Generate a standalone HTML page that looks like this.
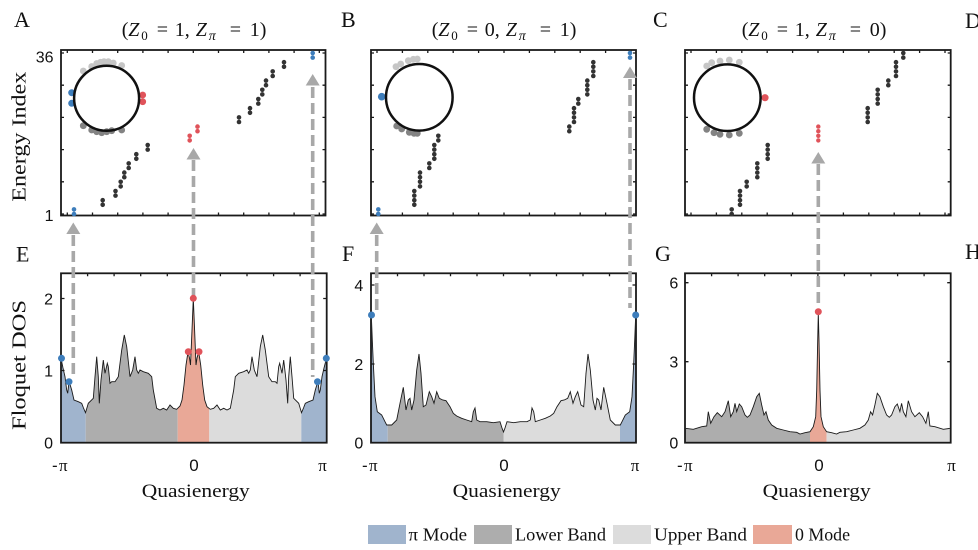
<!DOCTYPE html>
<html><head><meta charset="utf-8"><style>
html,body{margin:0;padding:0;background:#fff;}
svg{display:block;}
text{font-family:"Liberation Serif",serif;fill:#111;}
.sans{font-family:"Liberation Sans",sans-serif;}
</style></head><body>
<svg width="978" height="550" viewBox="0 0 978 550" xmlns="http://www.w3.org/2000/svg">
<rect width="978" height="550" fill="#fff"/>
<defs>
<path id="eA" d="M61,442.7 L61,358.3 63,368 65,376.7 66.7,390 67.7,393.3 69,381.7 70.5,386 71.7,390 74,400 78.3,401.7 81.7,403.3 83.5,408 85.5,412.7 88.3,403.3 93.3,398.3 95,376.7 96.7,356.7 98.3,376.7 99.3,403.3 101,380 103.3,360 105,373.3 107.3,363.3 108.3,366.7 110,383.3 111.7,381.7 115,381.7 118.3,376.7 121.7,350 124.3,335 126.7,346.7 130,376.7 132.7,370 135,356.7 136.7,370 138.3,373.3 140,370 143.3,371.7 148.3,373.3 151.7,376.7 153.3,390 156.7,408.3 160,410 163.3,408.3 166.7,410 170,405 173.3,408.3 176.7,409.3 180,406 182,400 184,385 186,365 188,352 189.5,358 190.5,365 192,330 193.3,298.3 194.6,330 196,365 197,358 198.7,352 200.7,365 202.7,385 204.7,400 207,406.7 210.3,409.3 213.7,408.3 217,405 220.3,410 223.7,408.3 227,410 230.3,408.3 233.7,390 235.3,376.7 238.7,373.3 243.7,371.7 247,370 248.7,373.3 250.3,370 252,356.7 254.3,370 257,376.7 260.3,346.7 262.7,335 265.3,350 268.7,376.7 272,381.7 275.3,381.7 277,383.3 278.7,366.7 279.7,363.3 282,373.3 283.7,360 286,380 287.7,403.3 288.7,376.7 290.3,356.7 292,376.7 293.7,398.3 298.7,403.3 301.5,412.7 303.5,408 305.3,403.3 308.7,401.7 313,400 315.3,390 316.5,386 318,381.7 319.3,393.3 320.3,390 322,376.7 324,368 326.5,358.3 L326.5,442.7 Z"/>
<path id="fA" d="M371,442.7 L371.3,315 372.3,340 373.3,363.3 375,396.7 377.3,411.7 381.7,415 385,421.7 386.7,425 391.7,425 396.7,420 400,403.3 403.3,387.3 406,410 408.3,400 410,398.3 411.7,410 414,400 416.7,370 419,354 421,373.3 423.3,406.7 426,405 429.3,391.7 431.7,396.7 434,403.3 436.7,391.7 439.3,398.3 442.7,400 446,400.7 450,406.7 453.3,413.3 456.7,416 461.7,418.3 466.7,420 471.7,421.7 473.3,411.7 475,408 476.7,420 480,421.7 486.7,421.7 493.3,422.7 500,421.7 502,428 503.5,432 505,428 507,421.7 513.7,422.7 520.3,421.7 527,421.7 530.3,420 532,408 533.7,411.7 535.3,421.7 540.3,420 545.3,418.3 550.3,416 553.7,413.3 557,406.7 561,400.7 564.3,400 567.7,398.3 570.3,391.7 573,403.3 575.3,396.7 577.7,391.7 581,405 583.7,406.7 586,373.3 588,354 590.3,370 593,400 595.3,410 597,398.3 598.7,400 601,410 603.7,387.3 607,403.3 610.3,420 615.3,425 620.3,425 622,421.7 625.3,415 629.7,411.7 632,396.7 633.7,363.3 634.7,340 635.7,315 L636,442.7 Z"/>
<path id="gA" d="M685,442.7 L685.5,428.3 693.3,429.3 701.7,426.7 706.7,426 708.3,411.7 710.7,423.3 714,416.7 717.3,412.7 721.7,416.7 725,411.7 728.3,400.7 730.7,416.7 733.3,411.7 735,403.3 736.7,411.7 739.3,404 741.7,406.7 745,415 747.3,417.3 750,415 753.3,406.7 756.7,396.7 759.3,393.3 761.7,405 764,415 766,411.7 768.3,420 771.7,425 776.7,428.3 783.3,430 790,431.7 796.7,432.3 800,434 805,432.7 810,431.7 813.3,426.7 815.7,416.7 816.7,390 817.7,340 818.3,313 819,340 820,390 821,416.7 823.3,426.7 826.6,431.7 831.6,432.7 836.6,434 839.9,432.3 846.6,431.7 853.3,430 859.9,428.3 864.9,425 868.3,420 870.6,411.7 872.6,415 874.9,405 877.3,393.3 879.9,396.7 883.3,406.7 886.6,415 889.3,417.3 891.6,415 894.9,406.7 897.3,404 899.9,411.7 901.6,403.3 903.3,411.7 905.9,416.7 908.3,400.7 911.6,411.7 914.9,416.7 919.3,412.7 922.6,416.7 925.9,423.3 928.3,411.7 929.9,426 934.9,426.7 943.3,429.3 950.5,428.3 L950.7,442.7 Z"/>
<clipPath id="e1"><rect x="60" y="250" width="25.7" height="200"/></clipPath>
<clipPath id="e2"><rect x="85.7" y="250" width="92" height="200"/></clipPath>
<clipPath id="e3"><rect x="177.7" y="250" width="31.6" height="200"/></clipPath>
<clipPath id="e4"><rect x="209.3" y="250" width="92" height="200"/></clipPath>
<clipPath id="e5"><rect x="301.3" y="250" width="30" height="200"/></clipPath>
<clipPath id="f1"><rect x="370" y="250" width="17.7" height="200"/></clipPath>
<clipPath id="f2"><rect x="387.7" y="250" width="115.8" height="200"/></clipPath>
<clipPath id="f3"><rect x="503.5" y="250" width="116.5" height="200"/></clipPath>
<clipPath id="f4"><rect x="620" y="250" width="20" height="200"/></clipPath>
<clipPath id="g2"><rect x="684" y="250" width="126" height="200"/></clipPath>
<clipPath id="g3"><rect x="810" y="250" width="16.6" height="200"/></clipPath>
<clipPath id="g4"><rect x="826.6" y="250" width="126" height="200"/></clipPath>
</defs>

<g stroke="none">
<use href="#eA" fill="#a0b4cd" clip-path="url(#e1)"/>
<use href="#eA" fill="#adadad" clip-path="url(#e2)"/>
<use href="#eA" fill="#e9a897" clip-path="url(#e3)"/>
<use href="#eA" fill="#dcdcdc" clip-path="url(#e4)"/>
<use href="#eA" fill="#a0b4cd" clip-path="url(#e5)"/>
<use href="#fA" fill="#a0b4cd" clip-path="url(#f1)"/>
<use href="#fA" fill="#adadad" clip-path="url(#f2)"/>
<use href="#fA" fill="#dcdcdc" clip-path="url(#f3)"/>
<use href="#fA" fill="#a0b4cd" clip-path="url(#f4)"/>
<use href="#gA" fill="#adadad" clip-path="url(#g2)"/>
<use href="#gA" fill="#e9a897" clip-path="url(#g3)"/>
<use href="#gA" fill="#dcdcdc" clip-path="url(#g4)"/>
</g>
<clipPath id="eC"><rect x="61.8" y="250" width="264" height="192"/></clipPath>
<clipPath id="fC"><rect x="371.8" y="250" width="263.5" height="192"/></clipPath>
<clipPath id="gC"><rect x="685.8" y="250" width="264" height="192"/></clipPath>
<use href="#eA" fill="none" stroke="#1a1a1a" stroke-width="0.9" clip-path="url(#eC)"/>
<use href="#fA" fill="none" stroke="#1a1a1a" stroke-width="0.9" clip-path="url(#fC)"/>
<use href="#gA" fill="none" stroke="#1a1a1a" stroke-width="0.9" clip-path="url(#gC)"/>

<g fill="none" stroke="#1a1a1a" stroke-width="1.8">
<rect x="61" y="50" width="264.5" height="165.5"/>
<rect x="371" y="50" width="265" height="165.5"/>
<rect x="685" y="50" width="265.7" height="165.5"/>
<rect x="61" y="273.3" width="265.7" height="169.4"/>
<rect x="371" y="273.3" width="265" height="169.4"/>
<rect x="685" y="273.3" width="265.7" height="169.4"/>
</g>
<g stroke="#1a1a1a" stroke-width="1.3">
<path d="M67.3,50v3M92.5,50v3M117.7,50v3M142.9,50v3M168.1,50v3M193.3,50v3M218.5,50v3M243.7,50v3M268.9,50v3M294.1,50v3M319.3,50v3
M67.3,215.5v-3M92.5,215.5v-3M117.7,215.5v-3M142.9,215.5v-3M168.1,215.5v-3M193.3,215.5v-3M218.5,215.5v-3M243.7,215.5v-3M268.9,215.5v-3M294.1,215.5v-3M319.3,215.5v-3"/>
<path d="M61,53h3M61,85.2h3M61,117.4h3M61,149.6h3M61,181.8h3M61,214h3M325.5,53h-3M325.5,85.2h-3M325.5,117.4h-3M325.5,149.6h-3M325.5,181.8h-3M325.5,214h-3"/>
<path d="M377,50v3M402.4,50v3M427.8,50v3M453.2,50v3M478.6,50v3M504,50v3M529.4,50v3M554.8,50v3M580.2,50v3M605.6,50v3M631,50v3
M377,215.5v-3M402.4,215.5v-3M427.8,215.5v-3M453.2,215.5v-3M478.6,215.5v-3M504,215.5v-3M529.4,215.5v-3M554.8,215.5v-3M580.2,215.5v-3M605.6,215.5v-3M631,215.5v-3"/>
<path d="M371,53h3M371,85.2h3M371,117.4h3M371,149.6h3M371,181.8h3M371,214h3M636,53h-3M636,85.2h-3M636,117.4h-3M636,149.6h-3M636,181.8h-3M636,214h-3"/>
<path d="M691,50v3M716.4,50v3M741.8,50v3M767.2,50v3M792.6,50v3M818,50v3M843.4,50v3M868.8,50v3M894.2,50v3M919.6,50v3M945,50v3
M691,215.5v-3M716.4,215.5v-3M741.8,215.5v-3M767.2,215.5v-3M792.6,215.5v-3M818,215.5v-3M843.4,215.5v-3M868.8,215.5v-3M894.2,215.5v-3M919.6,215.5v-3M945,215.5v-3"/>
<path d="M685,53h3M685,85.2h3M685,117.4h3M685,149.6h3M685,181.8h3M685,214h3M950.7,53h-3M950.7,85.2h-3M950.7,117.4h-3M950.7,149.6h-3M950.7,181.8h-3M950.7,214h-3"/>
<path d="M87.6,273.3v3M114.1,273.3v3M140.7,273.3v3M167.3,273.3v3M193.9,273.3v3M220.4,273.3v3M247,273.3v3M273.6,273.3v3M300.1,273.3v3
M61,298.5h3.5M61,370.5h3.5M326.7,298.5h-3.5M326.7,370.5h-3.5"/>
<path d="M397.5,273.3v3M424,273.3v3M450.5,273.3v3M477,273.3v3M503.5,273.3v3M530,273.3v3M556.5,273.3v3M583,273.3v3M609.5,273.3v3
M371,285h3.5M371,364h3.5M636,285h-3.5M636,364h-3.5"/>
<path d="M711.6,273.3v3M738.1,273.3v3M764.7,273.3v3M791.3,273.3v3M817.9,273.3v3M844.4,273.3v3M871,273.3v3M897.6,273.3v3M924.1,273.3v3
M685,282.7h3.5M685,361.7h3.5M950.7,282.7h-3.5M950.7,361.7h-3.5"/>
</g>

<g stroke="#a8a8a8" stroke-width="3.6" stroke-dasharray="11 5" fill="none">
<path d="M73.3,235V377"/>
<path d="M193.5,160V296"/>
<path d="M312.7,87V377"/>
<path d="M376.7,235V310"/>
<path d="M630,79V308"/>
<path d="M818.3,164V305"/>
</g>
<g fill="#a8a8a8">
<polygon points="66.3,234 80.3,234 73.3,222.5"/>
<polygon points="186.5,159.5 200.5,159.5 193.5,148"/>
<polygon points="305.7,85.5 319.7,85.5 312.7,74"/>
<polygon points="369.7,234 383.7,234 376.7,222.5"/>
<polygon points="623,78 637,78 630,66.5"/>
<polygon points="811.3,163.5 825.3,163.5 818.3,152"/>
</g>

<g fill="#3d7dbb">
<circle cx="61.5" cy="358.3" r="3.5"/><circle cx="69" cy="381.7" r="3.5"/>
<circle cx="317.5" cy="381.7" r="3.5"/><circle cx="326.3" cy="358.3" r="3.5"/>
<circle cx="371.5" cy="315" r="3.5"/><circle cx="635.7" cy="315" r="3.5"/>
</g>
<g fill="#e0535a">
<circle cx="193.3" cy="298.3" r="3.5"/><circle cx="188.3" cy="351.7" r="3.5"/><circle cx="199" cy="351.7" r="3.5"/>
<circle cx="818.3" cy="311.7" r="3.5"/>
</g>

<g fill="#3d7dbb">
<circle cx="74" cy="214" r="2.3"/><circle cx="74" cy="209.4" r="2.3"/>
<circle cx="312.7" cy="57.6" r="2.3"/><circle cx="312.7" cy="53" r="2.3"/>
<circle cx="378.3" cy="214" r="2.3"/><circle cx="378.3" cy="209.4" r="2.3"/>
<circle cx="630" cy="57.6" r="2.3"/><circle cx="630" cy="53" r="2.3"/>
</g>
<g fill="#e0535a">
<circle cx="189.7" cy="140.4" r="2.3"/><circle cx="189.7" cy="135.8" r="2.3"/>
<circle cx="197.5" cy="131.2" r="2.3"/><circle cx="197.5" cy="126.6" r="2.3"/>
<circle cx="818.3" cy="140.4" r="2.2"/><circle cx="818.3" cy="135.8" r="2.2"/><circle cx="818.3" cy="131.2" r="2.2"/><circle cx="818.3" cy="126.6" r="2.2"/>
</g>
<g fill="#333">
<circle cx="102.7" cy="204.8" r="2.3"/><circle cx="102.7" cy="200.2" r="2.3"/>
<circle cx="115.5" cy="195.6" r="2.3"/><circle cx="115.5" cy="191" r="2.3"/>
<circle cx="120.7" cy="186.4" r="2.3"/><circle cx="120.7" cy="181.8" r="2.3"/>
<circle cx="124.3" cy="177.2" r="2.3"/><circle cx="124.3" cy="172.6" r="2.3"/>
<circle cx="128.7" cy="168" r="2.3"/><circle cx="128.7" cy="163.4" r="2.3"/>
<circle cx="136.3" cy="158.8" r="2.3"/><circle cx="136.3" cy="154.2" r="2.3"/>
<circle cx="147.7" cy="149.6" r="2.3"/><circle cx="147.7" cy="145" r="2.3"/>
<circle cx="239" cy="122" r="2.3"/><circle cx="239" cy="117.4" r="2.3"/>
<circle cx="250" cy="112.8" r="2.3"/><circle cx="250" cy="108.2" r="2.3"/>
<circle cx="258.3" cy="103.6" r="2.3"/><circle cx="258.3" cy="99" r="2.3"/>
<circle cx="262.3" cy="94.4" r="2.3"/><circle cx="262.3" cy="89.8" r="2.3"/>
<circle cx="266" cy="85.2" r="2.3"/><circle cx="266" cy="80.6" r="2.3"/>
<circle cx="272.7" cy="76" r="2.3"/><circle cx="272.7" cy="71.4" r="2.3"/>
<circle cx="284" cy="66.8" r="2.3"/><circle cx="284" cy="62.2" r="2.3"/>
<circle cx="414.3" cy="204.8" r="2.3"/><circle cx="414.3" cy="200.2" r="2.3"/><circle cx="414.3" cy="195.6" r="2.3"/><circle cx="414.3" cy="191" r="2.3"/>
<circle cx="420" cy="186.4" r="2.3"/><circle cx="420" cy="181.8" r="2.3"/><circle cx="420" cy="177.2" r="2.3"/><circle cx="420" cy="172.6" r="2.3"/>
<circle cx="429.3" cy="168" r="2.3"/><circle cx="429.3" cy="163.4" r="2.3"/>
<circle cx="434.3" cy="158.8" r="2.3"/><circle cx="434.3" cy="154.2" r="2.3"/><circle cx="434.3" cy="149.6" r="2.3"/><circle cx="434.3" cy="145" r="2.3"/>
<circle cx="438.3" cy="140.4" r="2.3"/><circle cx="438.3" cy="135.8" r="2.3"/>
<circle cx="569.3" cy="131.2" r="2.3"/><circle cx="569.3" cy="126.6" r="2.3"/>
<circle cx="574" cy="122" r="2.3"/><circle cx="574" cy="117.4" r="2.3"/><circle cx="574" cy="112.8" r="2.3"/><circle cx="574" cy="108.2" r="2.3"/>
<circle cx="578.3" cy="103.6" r="2.3"/><circle cx="578.3" cy="99" r="2.3"/>
<circle cx="587.3" cy="94.4" r="2.3"/><circle cx="587.3" cy="89.8" r="2.3"/><circle cx="587.3" cy="85.2" r="2.3"/><circle cx="587.3" cy="80.6" r="2.3"/>
<circle cx="593.3" cy="76" r="2.3"/><circle cx="593.3" cy="71.4" r="2.3"/><circle cx="593.3" cy="66.8" r="2.3"/><circle cx="593.3" cy="62.2" r="2.3"/>
<circle cx="731.7" cy="214" r="2.3"/><circle cx="731.7" cy="209.4" r="2.3"/>
<circle cx="740" cy="204.8" r="2.3"/><circle cx="740" cy="200.2" r="2.3"/><circle cx="740" cy="195.6" r="2.3"/><circle cx="740" cy="191" r="2.3"/>
<circle cx="746.7" cy="186.4" r="2.3"/><circle cx="746.7" cy="181.8" r="2.3"/>
<circle cx="757.3" cy="177.2" r="2.3"/><circle cx="757.3" cy="172.6" r="2.3"/><circle cx="757.3" cy="168" r="2.3"/><circle cx="757.3" cy="163.4" r="2.3"/>
<circle cx="767.7" cy="158.8" r="2.3"/><circle cx="767.7" cy="154.2" r="2.3"/><circle cx="767.7" cy="149.6" r="2.3"/><circle cx="767.7" cy="145" r="2.3"/>
<circle cx="867.7" cy="122" r="2.3"/><circle cx="867.7" cy="117.4" r="2.3"/><circle cx="867.7" cy="112.8" r="2.3"/><circle cx="867.7" cy="108.2" r="2.3"/>
<circle cx="877.7" cy="103.6" r="2.3"/><circle cx="877.7" cy="99" r="2.3"/><circle cx="877.7" cy="94.4" r="2.3"/><circle cx="877.7" cy="89.8" r="2.3"/>
<circle cx="888.3" cy="85.2" r="2.3"/><circle cx="888.3" cy="80.6" r="2.3"/>
<circle cx="896" cy="76" r="2.3"/><circle cx="896" cy="71.4" r="2.3"/><circle cx="896" cy="66.8" r="2.3"/><circle cx="896" cy="62.2" r="2.3"/>
<circle cx="903.3" cy="57.6" r="2.3"/><circle cx="903.3" cy="53" r="2.3"/>
</g>

<g fill="#c6c6c6">
<circle cx="83.3" cy="71" r="3.4"/><circle cx="91.7" cy="66.5" r="3.4"/><circle cx="96.7" cy="63.5" r="3.4"/><circle cx="100.5" cy="62.3" r="3.4"/><circle cx="104" cy="61.7" r="3.4"/><circle cx="108.3" cy="61.7" r="3.4"/><circle cx="113.3" cy="63" r="3.4"/><circle cx="121.7" cy="65.5" r="3.4"/>
<circle cx="396" cy="66.7" r="3.4"/><circle cx="400.7" cy="64" r="3.4"/><circle cx="408.3" cy="60.7" r="3.4"/><circle cx="413.3" cy="59.3" r="3.4"/><circle cx="417.3" cy="59" r="3.4"/>
<circle cx="706.7" cy="66" r="3.4"/><circle cx="711.7" cy="62.7" r="3.4"/><circle cx="720" cy="61" r="3.4"/><circle cx="729.3" cy="60" r="3.4"/><circle cx="739.3" cy="62.3" r="3.4"/>
</g>
<g fill="#838383">
<circle cx="83.3" cy="125.7" r="3.4"/><circle cx="91.7" cy="130" r="3.4"/><circle cx="96.7" cy="131.7" r="3.4"/><circle cx="101.7" cy="132.7" r="3.4"/><circle cx="106.7" cy="131.7" r="3.4"/><circle cx="111.7" cy="130.7" r="3.4"/><circle cx="121.7" cy="130" r="3.4"/>
<circle cx="396.7" cy="126" r="3.4"/><circle cx="401.7" cy="129" r="3.4"/><circle cx="409.3" cy="132.3" r="3.4"/><circle cx="414" cy="133.3" r="3.4"/><circle cx="417.3" cy="133.3" r="3.4"/>
<circle cx="706.7" cy="129.3" r="3.4"/><circle cx="714" cy="132.7" r="3.4"/><circle cx="720" cy="134.3" r="3.4"/><circle cx="729.3" cy="135" r="3.4"/><circle cx="739.3" cy="133.3" r="3.4"/>
</g>
<g fill="#3d7dbb">
<circle cx="71.7" cy="92.7" r="3.5"/><circle cx="71.7" cy="103.3" r="3.5"/>
<circle cx="381.7" cy="96.7" r="3.8"/>
</g>
<g fill="#e0535a">
<circle cx="142.7" cy="95" r="3.4"/><circle cx="142.7" cy="101.7" r="3.4"/>
<circle cx="765" cy="97.7" r="3.6"/>
</g>
<g fill="none" stroke="#111" stroke-width="2.5">
<circle cx="106.6" cy="98.3" r="32.5"/>
<circle cx="419.3" cy="97.3" r="33.3"/>
<circle cx="727.3" cy="97.7" r="33.3"/>
</g>

<g font-size="22">
<text x="14" y="27">A</text>
<text x="341" y="27">B</text>
<text x="653" y="27">C</text>
<text x="965" y="28">D</text>
<text x="16" y="261.5">E</text>
<text x="342" y="261">F</text>
<text x="655" y="261">G</text>
<text x="965" y="259">H</text>
</g>

<g font-size="20">
<g transform="translate(121.7,36)">
<text x="0">(</text><text x="6.5" font-style="italic">Z</text><text x="19.5" y="4" font-size="13">0</text>
<text x="35">=</text><text x="53">1,</text><text x="74" font-style="italic">Z</text><text x="87" y="4" font-size="14" font-style="italic">π</text>
<text x="108">=</text><text x="128">1)</text>
</g>
<g transform="translate(431.7,36)">
<text x="0">(</text><text x="6.5" font-style="italic">Z</text><text x="19.5" y="4" font-size="13">0</text>
<text x="35">=</text><text x="53">0,</text><text x="74" font-style="italic">Z</text><text x="87" y="4" font-size="14" font-style="italic">π</text>
<text x="108">=</text><text x="128">1)</text>
</g>
<g transform="translate(741.7,36)">
<text x="0">(</text><text x="6.5" font-style="italic">Z</text><text x="19.5" y="4" font-size="13">0</text>
<text x="35">=</text><text x="53">1,</text><text x="74" font-style="italic">Z</text><text x="87" y="4" font-size="14" font-style="italic">π</text>
<text x="108">=</text><text x="128">0)</text>
</g>
</g>

<g class="sans" font-size="16" text-anchor="end">
<text class="sans" x="53.5" y="62.5">36</text>
<text class="sans" x="53.5" y="220.8">1</text>
<text class="sans" x="53" y="304.3">2</text>
<text class="sans" x="53" y="376.3">1</text>
<text class="sans" x="53" y="448.5">0</text>
<text class="sans" x="363.3" y="290.8">4</text>
<text class="sans" x="363.3" y="369.8">2</text>
<text class="sans" x="363.3" y="448.5">0</text>
<text class="sans" x="678.3" y="288.5">6</text>
<text class="sans" x="678.3" y="367.5">3</text>
<text class="sans" x="678.3" y="448.5">0</text>
</g>

<g font-size="17">
<text class="sans" x="52" y="471">-</text><text x="59" y="471">π</text>
<text class="sans" x="194" y="471" text-anchor="middle">0</text>
<text x="322.5" y="471" text-anchor="middle">π</text>
<text class="sans" x="362" y="471">-</text><text x="369" y="471">π</text>
<text class="sans" x="504" y="471" text-anchor="middle">0</text>
<text x="635" y="471" text-anchor="middle">π</text>
<text class="sans" x="677" y="471">-</text><text x="684" y="471">π</text>
<text class="sans" x="819" y="471" text-anchor="middle">0</text>
<text x="951.5" y="471" text-anchor="middle">π</text>
</g>

<g font-size="19">
<text x="195.8" y="497" text-anchor="middle" textLength="108" lengthAdjust="spacingAndGlyphs">Quasienergy</text>
<text x="506.7" y="497" text-anchor="middle" textLength="108" lengthAdjust="spacingAndGlyphs">Quasienergy</text>
<text x="816.7" y="497" text-anchor="middle" textLength="108" lengthAdjust="spacingAndGlyphs">Quasienergy</text>
<text transform="translate(25.5,136.7) rotate(-90)" text-anchor="middle" font-size="20" textLength="130" lengthAdjust="spacingAndGlyphs">Energy Index</text>
<text transform="translate(25.5,365) rotate(-90)" text-anchor="middle" font-size="20" textLength="130" lengthAdjust="spacingAndGlyphs">Floquet DOS</text>
</g>

<rect x="368" y="525" width="38" height="19" fill="#a0b4cd"/>
<rect x="474" y="525" width="38" height="19" fill="#adadad"/>
<rect x="613" y="525" width="38" height="19" fill="#dcdcdc"/>
<rect x="753" y="525" width="39" height="19" fill="#e9a897"/>
<g font-size="18">
<text x="408.5" y="540.5" textLength="58.5" lengthAdjust="spacingAndGlyphs">π Mode</text>
<text x="515" y="540.5" textLength="91" lengthAdjust="spacingAndGlyphs">Lower Band</text>
<text x="654" y="540.5" textLength="93" lengthAdjust="spacingAndGlyphs">Upper Band</text>
<text x="795" y="540.5" textLength="55" lengthAdjust="spacingAndGlyphs">0 Mode</text>
</g>
</svg>
</body></html>
